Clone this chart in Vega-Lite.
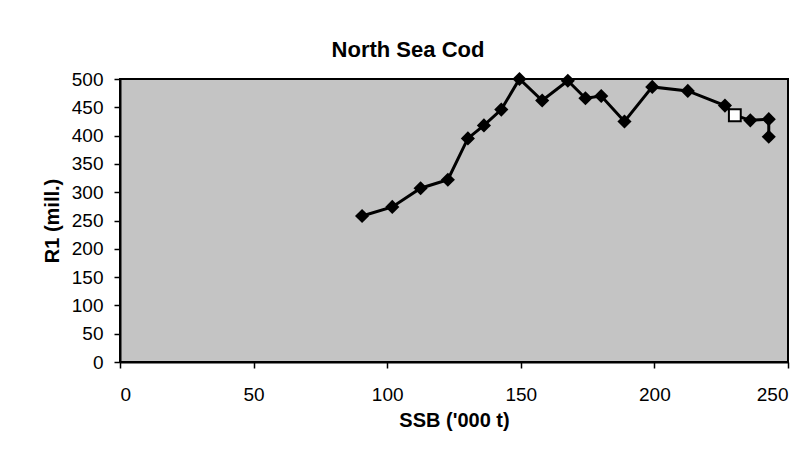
{
  "$schema": "https://vega.github.io/schema/vega-lite/v6.json",
  "width": 668,
  "height": 283,
  "autosize": "none",
  "padding": {"left": 120, "top": 79, "right": 24, "bottom": 95},
  "background": "white",
  "title": {"text": "North Sea Cod", "fontSize": 22, "fontWeight": "bold", "font": "Liberation Sans", "color": "black", "anchor": "middle", "dx": -46, "offset": 8},
  "config": {
    "view": {"fill": "#c4c4c4", "stroke": "black", "strokeWidth": 2},
    "axis": {"grid": false, "domainColor": "black", "domainWidth": 2, "tickColor": "black", "tickSize": 6, "tickWidth": 1.5, "labelFont": "Liberation Sans", "labelFontSize": 19, "labelColor": "black", "titleFont": "Liberation Sans", "titleFontSize": 20, "titleFontWeight": "bold", "titleColor": "black"}
  },
  "data": {
    "values": [
      {"ssb": 90.6, "r1": 258, "seq": 1, "kind": "obs"},
      {"ssb": 101.9, "r1": 274, "seq": 2, "kind": "obs"},
      {"ssb": 112.5, "r1": 307, "seq": 3, "kind": "obs"},
      {"ssb": 122.7, "r1": 322, "seq": 4, "kind": "obs"},
      {"ssb": 130.2, "r1": 395, "seq": 5, "kind": "obs"},
      {"ssb": 136.2, "r1": 418, "seq": 6, "kind": "obs"},
      {"ssb": 142.7, "r1": 446, "seq": 7, "kind": "obs"},
      {"ssb": 149.5, "r1": 500, "seq": 8, "kind": "obs"},
      {"ssb": 158.0, "r1": 462, "seq": 9, "kind": "obs"},
      {"ssb": 167.6, "r1": 497, "seq": 10, "kind": "obs"},
      {"ssb": 174.2, "r1": 466, "seq": 11, "kind": "obs"},
      {"ssb": 180.1, "r1": 470, "seq": 12, "kind": "obs"},
      {"ssb": 188.8, "r1": 425, "seq": 13, "kind": "obs"},
      {"ssb": 199.2, "r1": 486, "seq": 14, "kind": "obs"},
      {"ssb": 212.5, "r1": 479, "seq": 15, "kind": "obs"},
      {"ssb": 226.4, "r1": 453, "seq": 16, "kind": "obs"},
      {"ssb": 230.1, "r1": 436, "seq": 17, "kind": "est"},
      {"ssb": 235.9, "r1": 427, "seq": 18, "kind": "obs"},
      {"ssb": 242.8, "r1": 429, "seq": 19, "kind": "obs"},
      {"ssb": 242.8, "r1": 398, "seq": 20, "kind": "obs"}
    ]
  },
  "encoding": {
    "x": {"field": "ssb", "type": "quantitative", "scale": {"domain": [0, 250], "nice": false}, "axis": {"values": [0, 50, 100, 150, 200, 250], "title": "SSB ('000 t)", "labelPadding": 17, "titlePadding": 6}},
    "y": {"field": "r1", "type": "quantitative", "scale": {"domain": [0, 500], "nice": false}, "axis": {"values": [0, 50, 100, 150, 200, 250, 300, 350, 400, 450, 500], "title": "R1 (mill.)", "labelPadding": 11, "titlePadding": 9}}
  },
  "layer": [
    {"mark": {"type": "line", "color": "black", "strokeWidth": 3}, "encoding": {"order": {"field": "seq", "type": "quantitative"}}},
    {"transform": [{"filter": "datum.kind == 'obs'"}], "mark": {"type": "point", "shape": "diamond", "filled": true, "color": "black", "size": 200, "opacity": 1}},
    {"transform": [{"filter": "datum.kind == 'est'"}], "mark": {"type": "point", "shape": "square", "filled": true, "fill": "white", "stroke": "black", "strokeWidth": 2, "size": 140, "opacity": 1}}
  ]
}
